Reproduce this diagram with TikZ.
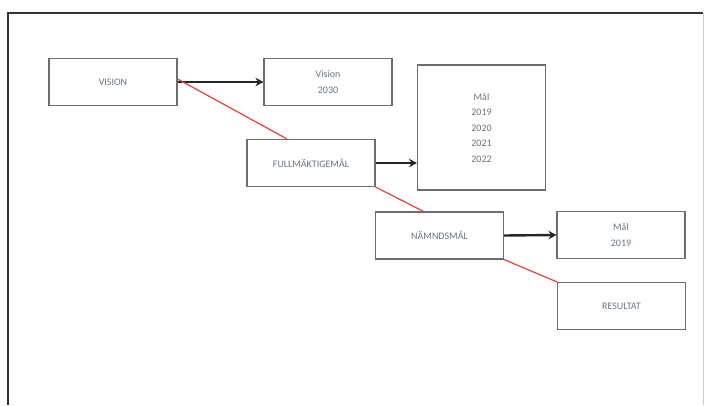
\documentclass[tikz,border=0pt]{standalone}
\usepackage{fontspec}
\setmainfont{Carlito}
\usetikzlibrary{arrows.meta}

\definecolor{boxline}{HTML}{6E6E6E}
\definecolor{boxtext}{HTML}{6A7482}
\definecolor{linkred}{HTML}{E8423C}

\tikzset{
    goalbox/.style={draw=boxline, line width=1.1pt, fill=white, align=center,
        text=boxtext, font=\fontsize{10}{15.5}\selectfont,
        minimum width=128pt, minimum height=47pt, inner sep=2pt},
    flowarrow/.style={line width=2.4pt, black!85, -{Stealth[length=8pt,width=8.5pt]}},
    redlink/.style={linkred, line width=1.2pt}
}

\begin{document}
\begin{tikzpicture}[x=1pt, y=-1pt]
    \useasboundingbox (0,0) rectangle (707,405);
    \fill[white] (0,0) rectangle (707,405);

    % ram
    \draw[line width=2.2pt, black!80] (8,405) -- (8,13) -- (703,13);
    \draw[line width=0.6pt, black!20] (703,13) -- (703,405);

    % rutor
    \node[goalbox] (vision) at (113,82) {VISION};
    \node[goalbox] (vision2030) at (328,82) {Vision\\2030};
    \node[goalbox, minimum height=125pt] (malar) at (481.5,127.5) {Mål\\2019\\2020\\2021\\2022};
    \node[goalbox] (fullm) at (311,163) {FULLMÄKTIGEMÅL};
    \node[goalbox] (namnd) at (439.5,235.5) {NÄMNDSMÅL};
    \node[goalbox] (mal2019) at (621,235) {Mål\\2019};
    \node[goalbox] (resultat) at (621.5,306) {RESULTAT};

    % pilar
    \draw[flowarrow] (vision.east) -- (vision2030.west);
    \draw[flowarrow] (fullm.east) -- (fullm.east -| malar.west);
    \draw[flowarrow] (namnd.east) -- (mal2019.west);

    % röda linjer
    \draw[redlink] ([yshift=3pt]vision.east) -- ([xshift=-24pt]fullm.north);
    \draw[redlink] (fullm.south east) -- ([xshift=-16pt]namnd.north);
    \draw[redlink] (namnd.south east) -- (resultat.north west);
\end{tikzpicture}
\end{document}
